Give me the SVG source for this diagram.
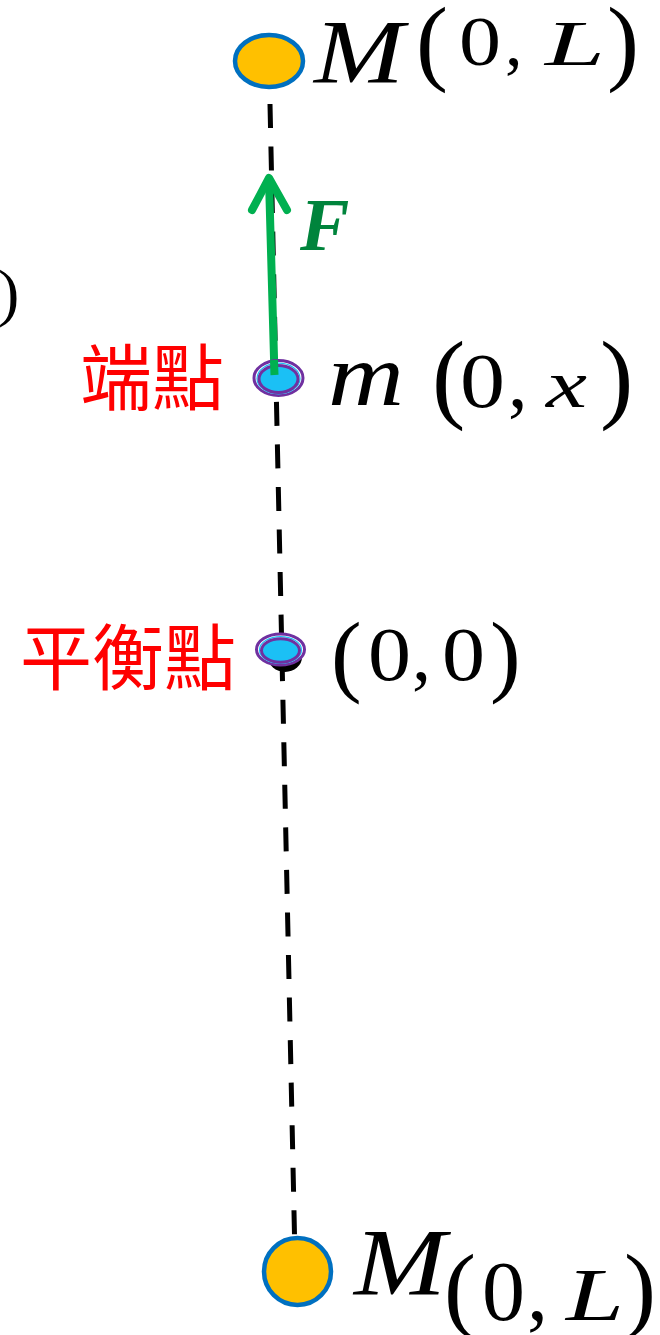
<svg xmlns="http://www.w3.org/2000/svg" width="660" height="1335" viewBox="0 0 660 1335">
<style>
.math{font-family:"Liberation Serif","Times New Roman",serif;fill:#000}
.it{font-style:italic}
.cjk{font-family:"Noto Sans CJK TC","Noto Sans CJK SC",sans-serif;fill:#FF0000;font-size:72px}
.mass{fill:#FFC000;stroke:#0070C0;stroke-width:4.5}
.ring{fill:#fff;stroke:#7030A0;stroke-width:3}
.mid{fill:none;stroke:#1BC0F5;stroke-width:1.2}
.core{fill:#1BC0F5;stroke:#7030A0;stroke-width:3}
</style>
<rect width="660" height="1335" fill="#fff"/>
<g id="connectors">
<line x1="270" y1="104" x2="294.5" y2="1235" stroke="#000" stroke-width="5" stroke-dasharray="24 18.56"/>
<g id="force" stroke="#00B050" stroke-width="8" stroke-linecap="round" stroke-linejoin="round" fill="none">
<line x1="274.5" y1="375" x2="269" y2="180"/>
<polyline points="252,210 269,178 287,210"/>
</g>
</g>
<g id="top-mass">
<ellipse class="mass" cx="269" cy="61" rx="34" ry="26"/>
<text class="math it" x="314" y="83" font-size="90" textLength="90" lengthAdjust="spacingAndGlyphs">M</text>
<text class="math" x="416" y="73" font-size="96">(</text>
<text class="math" x="459" y="65" font-size="70" textLength="42" lengthAdjust="spacingAndGlyphs">0</text>
<text class="math" x="505" y="65" font-size="70">,</text>
<text class="math it" x="545" y="65" font-size="64" textLength="60" lengthAdjust="spacingAndGlyphs">L</text>
<text class="math" x="607" y="73" font-size="96">)</text>
</g>
<g id="force-label">
<text x="300" y="250" font-family="Liberation Serif, serif" font-style="italic" font-weight="bold" font-size="74" fill="#00843C">F</text>
</g>
<g id="left-fragment">
<text class="math" x="-2" y="314" font-size="64">)</text>
</g>
<g id="end-point">
<text class="cjk" x="80" y="404">端點</text>
<ellipse class="ring" cx="278.5" cy="378" rx="24.5" ry="17.5"/>
<ellipse class="mid" cx="278.5" cy="378.5" rx="21.5" ry="15.3"/>
<ellipse class="core" cx="278.5" cy="379" rx="19.5" ry="13.5"/>
<line x1="274.5" y1="375" x2="274" y2="360" stroke="#00B050" stroke-width="8"/>
<text class="math it" x="328" y="405" font-size="88" textLength="76" lengthAdjust="spacingAndGlyphs">m</text>
<text class="math" x="432" y="410" font-size="100">(</text>
<text class="math" x="460" y="407" font-size="78" textLength="45" lengthAdjust="spacingAndGlyphs">0</text>
<text class="math" x="508" y="407" font-size="78">,</text>
<text class="math it" x="546" y="407" font-size="68" textLength="41" lengthAdjust="spacingAndGlyphs">x</text>
<text class="math" x="600" y="410" font-size="100">)</text>
</g>
<g id="equilibrium">
<text class="cjk" x="20" y="684">平衡點</text>
<ellipse cx="285" cy="657" rx="17" ry="15" fill="#000"/>
<ellipse class="ring" cx="280.5" cy="649.5" rx="24" ry="15.5"/>
<ellipse class="mid" cx="280.5" cy="650" rx="21" ry="13.3"/>
<ellipse class="core" cx="280.5" cy="650.5" rx="19" ry="11.8"/>
<text class="math" x="331" y="685" font-size="92">(</text>
<text class="math" x="368" y="680" font-size="76" textLength="43" lengthAdjust="spacingAndGlyphs">0</text>
<text class="math" x="412" y="680" font-size="76">,</text>
<text class="math" x="442" y="680" font-size="76" textLength="43" lengthAdjust="spacingAndGlyphs">0</text>
<text class="math" x="490" y="685" font-size="92">)</text>
</g>
<g id="bottom-mass">
<circle class="mass" cx="297.5" cy="1271.5" r="33.5" stroke-width="5"/>
<text class="math it" x="354" y="1295" font-size="95" textLength="92" lengthAdjust="spacingAndGlyphs">M</text>
<text class="math" x="444" y="1320" font-size="96">(</text>
<text class="math" x="482" y="1320" font-size="84" textLength="43" lengthAdjust="spacingAndGlyphs">0</text>
<text class="math" x="527" y="1320" font-size="84">,</text>
<text class="math it" x="566" y="1320" font-size="74" textLength="58" lengthAdjust="spacingAndGlyphs">L</text>
<text class="math" x="624" y="1320" font-size="96">)</text>
</g>
</svg>
